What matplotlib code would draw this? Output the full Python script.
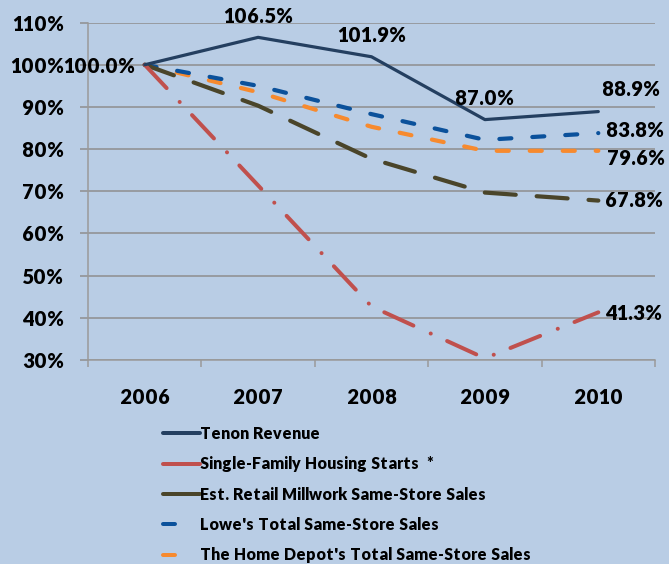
import numpy as np
import matplotlib
matplotlib.use('Agg')
import matplotlib.pyplot as plt
from matplotlib.lines import Line2D
from matplotlib.font_manager import FontProperties

plt.rcParams['font.family'] = ['Lato', 'DejaVu Sans']
plt.rcParams['font.weight'] = 'heavy'
plt.rcParams['lines.scale_dashes'] = False
plt.rcParams['text.hinting_factor'] = 1

# data
years = ['2006', '2007', '2008', '2009', '2010']
tenon = [100.0, 106.5, 101.9, 87.0, 88.9]
housing = [100.0, 71.4, 42.7, 30.4, 41.3]
millwork = [100.0, 90.3, 77.7, 69.7, 67.8]
lowes = [100.0, 95.0, 88.3, 82.2, 83.8]
home_depot = [100.0, 93.5, 85.3, 79.6, 79.6]

series_names = ['Tenon Revenue', 'Single-Family Housing Starts  *',
                'Est. Retail Millwork Same-Store Sales',
                "Lowe's Total Same-Store Sales",
                "The Home Depot's Total Same-Store Sales"]
y_ticks = [30, 40, 50, 60, 70, 80, 90, 100, 110]

BG = '#B9CDE5'
C_TENON = '#243F60'
C_RED = '#C0504D'
C_MILL = '#4A452A'
C_LOWES = '#0B519B'
C_HD = '#F78A2E'
GRID = '#8E8E8E'

FP_BIG = FontProperties(family=['Lato', 'DejaVu Sans'], weight='heavy', size=14.3)
FP_LEG = FontProperties(family=['Lato', 'DejaVu Sans'], weight='heavy', size=11.4)


def px(v):
    # pixels -> points at dpi 100
    return v * 0.72


def make_chart(save_path):
    fig = plt.figure(figsize=(6.69, 5.64), dpi=100, facecolor=BG)
    ax = fig.add_axes([88 / 669, 1 - 360 / 564, (655 - 88) / 669, (360 - 22.6) / 564])
    ax.set_facecolor(BG)
    x = np.arange(len(years))

    common = dict(solid_capstyle='round', dash_capstyle='round', clip_on=False)
    ax.plot(x, home_depot, color=C_HD, lw=px(4.2), dashes=(px(12), px(21)), zorder=3, **common)
    ax.plot(x, lowes, color=C_LOWES, lw=px(4.2), dashes=(px(12), px(21)), zorder=4, **common)
    ax.plot(x, millwork, color=C_MILL, lw=px(4.2), dashes=(px(31), px(21)), zorder=5, **common)
    ax.plot(x, housing, color=C_RED, lw=px(4.0),
            dashes=(px(32), px(19), px(0.1), px(18)), zorder=6, **common)
    ax.plot(x, tenon, color=C_TENON, lw=px(3.2), zorder=7, **common)

    # data labels, offsets given in pixels
    def label(xi, yi, dx, dy, ha='center'):
        ax.annotate(f'{yi:.1f}%', (xi, yi), xytext=(px(dx), px(dy)), textcoords='offset points',
                    ha=ha, va='center', fontproperties=FP_BIG, color='black',
                    annotation_clip=False, zorder=10)

    label(x[0], tenon[0], -10, -2, ha='right')
    for i in (1, 2, 3):
        label(x[i], tenon[i], 0, 21)
    label(x[4], tenon[4], 33, 22)
    label(x[4], lowes[4], 37, 3)
    label(x[4], home_depot[4], 38, -8)
    label(x[4], millwork[4], 7, 0, ha='left')
    label(x[4], housing[4], 7, -1, ha='left')

    # axes
    ax.set_xlim(-0.5, len(years) - 0.5)
    ax.set_ylim(30, 110)
    ax.set_yticks(y_ticks)
    ax.set_yticklabels([f'{v}%' for v in y_ticks], fontproperties=FP_BIG)
    ax.set_xticks(x)
    ax.set_xticklabels(years, fontproperties=FP_BIG)
    ax.set_xticks(np.arange(-0.5, len(years)), minor=True)
    ax.tick_params(axis='y', length=px(8), width=1.1, color=GRID, pad=px(16))
    ax.tick_params(axis='x', which='major', length=0, pad=px(28))
    ax.tick_params(axis='x', which='minor', length=px(7), width=1.1, color='#9A9A9A')
    ax.grid(axis='y', color=GRID, lw=1.1)
    ax.set_axisbelow(True)
    for s in ('top', 'right'):
        ax.spines[s].set_visible(False)
    ax.spines['left'].set_color('#9A9A9A')
    ax.spines['bottom'].set_color('#9A9A9A')
    ax.spines['left'].set_linewidth(1.1)
    ax.spines['bottom'].set_linewidth(1.1)

    # legend
    handles = [
        Line2D([], [], color=C_TENON, lw=px(4), solid_capstyle='round'),
        Line2D([], [], color=C_RED, lw=px(4), solid_capstyle='round'),
        Line2D([], [], color=C_MILL, lw=px(4), solid_capstyle='round'),
        Line2D([], [], color=C_LOWES, lw=px(4), dashes=(px(12), px(40)), dash_capstyle='round'),
        Line2D([], [], color=C_HD, lw=px(4), dashes=(px(12), px(40)), dash_capstyle='round'),
    ]
    fig.legend(handles, series_names, loc='upper left', bbox_to_anchor=(163 / 669, 1 - 426 / 564),
               frameon=False, handlelength=2.34, handletextpad=0.0,
               labelspacing=0.905, borderpad=0, borderaxespad=0, prop=FP_LEG)

    fig.savefig(save_path, dpi=100, facecolor=BG)


if __name__ == '__main__':
    make_chart('out.png')
